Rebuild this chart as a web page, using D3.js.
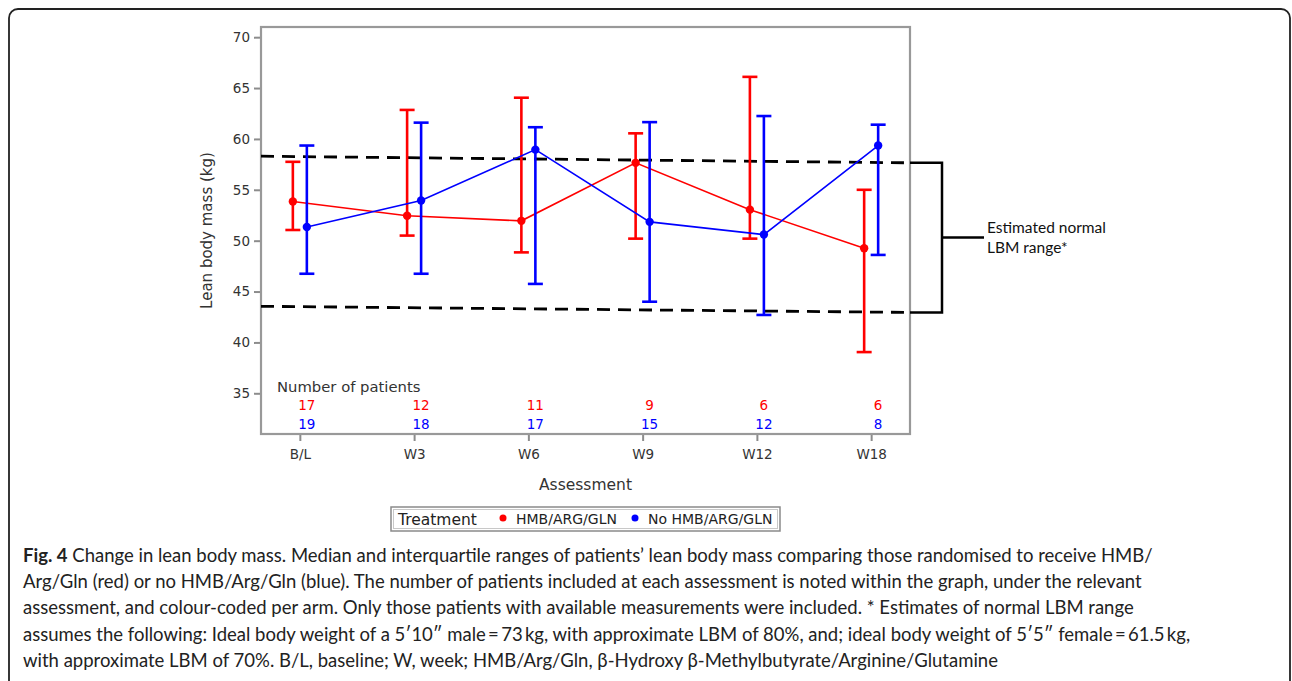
<!DOCTYPE html>
<html>
<head>
<meta charset="utf-8">
<script src="https://cdn.jsdelivr.net/npm/d3@7"></script>
<style>
  body { margin: 0; background: #fff; }
  svg { display: block; }
  .tick text { font-family: "DejaVu Sans", sans-serif; font-size: 13.5px; fill: #333; }
  .tick line { stroke: #8c8c8c; stroke-width: 2; }
</style>
</head>
<body>
<script>
// data: medians with interquartile ranges
var visits = ["B/L", "W3", "W6", "W9", "W12", "W18"];
var hmbMedian = [53.85, 52.45, 51.95, 57.65, 53.05, 49.25];
var hmbQ1     = [51.05, 50.5, 48.85, 50.2, 50.2, 39.05];
var hmbQ3     = [57.75, 62.85, 64.05, 60.55, 66.1, 55.0];
var hmbCount  = [17, 12, 11, 9, 6, 6];
var noMedian  = [51.35, 53.95, 58.95, 51.85, 50.6, 59.35];
var noQ1      = [46.75, 46.75, 45.75, 44.0, 42.7, 48.6];
var noQ3      = [59.35, 61.6, 61.15, 61.65, 62.25, 61.4];
var noCount   = [19, 18, 17, 15, 12, 8];
var yTicks = [35, 40, 45, 50, 55, 60, 65, 70];
// estimated normal LBM range, value at left and right edge of the plot
var upperBand = [58.3, 57.65];
var lowerBand = [43.55, 42.95];

var captionLines = [
  " Change in lean body mass. Median and interquartile ranges of patients\u2019 lean body mass comparing those randomised to receive HMB/",
  "Arg/Gln (red) or no HMB/Arg/Gln (blue). The number of patients included at each assessment is noted within the graph, under the relevant",
  "assessment, and colour-coded per arm. Only those patients with available measurements were included. * Estimates of normal LBM range",
  "assumes the following: Ideal body weight of a 5\u203210\u2033 male\u2009=\u200973\u2009kg, with approximate LBM of 80%, and; ideal body weight of 5\u20325\u2033 female\u2009=\u200961.5\u2009kg,",
  "with approximate LBM of 70%. B/L, baseline; W, week; HMB/Arg/Gln, \u03b2-Hydroxy \u03b2-Methylbutyrate/Arginine/Glutamine"
];

var series = [
  {name: "HMB/ARG/GLN", color: "#ff0000", off: -7, med: hmbMedian, lo: hmbQ1, hi: hmbQ3, n: hmbCount},
  {name: "No HMB/ARG/GLN", color: "#0000ff", off: 7, med: noMedian, lo: noQ1, hi: noQ3, n: noCount}
];

var W = 1292, H = 681;
var plot = {left: 261, right: 910, top: 27, bottom: 434};

var svg = d3.select("body").append("svg")
    .attr("width", W)
    .attr("height", H);

// outer rounded frame of the figure panel
svg.append("rect")
    .attr("x", 9).attr("y", 9)
    .attr("width", 1281).attr("height", 720)
    .attr("rx", 9)
    .attr("fill", "none")
    .attr("stroke", "#222")
    .attr("stroke-width", 1.8);

var x = d3.scalePoint()
    .domain(visits)
    .range([plot.left, plot.right])
    .padding(0.34);

var y = d3.scaleLinear()
    .domain([31, 71])
    .range([plot.bottom, plot.top]);

// axes
var yAxis = svg.append("g")
    .attr("transform", "translate(" + plot.left + ",0)")
    .call(d3.axisLeft(y).tickValues(yTicks).tickSize(7).tickPadding(4));
yAxis.select(".domain").remove();

var xAxis = svg.append("g")
    .attr("transform", "translate(0," + plot.bottom + ")")
    .call(d3.axisBottom(x).tickSize(7).tickPadding(8));
xAxis.select(".domain").remove();

// plot frame
svg.append("rect")
    .attr("x", plot.left).attr("y", plot.top)
    .attr("width", plot.right - plot.left)
    .attr("height", plot.bottom - plot.top)
    .attr("fill", "none")
    .attr("stroke", "#999")
    .attr("stroke-width", 2.2);

// axis titles
svg.append("text")
    .attr("transform", "translate(212," + (plot.top + plot.bottom) / 2 + ") rotate(-90)")
    .attr("text-anchor", "middle")
    .style("font-family", "DejaVu Sans, sans-serif")
    .style("font-size", "15px")
    .attr("fill", "#333")
    .text("Lean body mass (kg)");

svg.append("text")
    .attr("x", (plot.left + plot.right) / 2)
    .attr("y", 490)
    .attr("text-anchor", "middle")
    .style("font-family", "DejaVu Sans, sans-serif")
    .style("font-size", "15.5px")
    .attr("fill", "#333")
    .text("Assessment");

// dashed normal range lines
[upperBand, lowerBand].forEach(function(b) {
  svg.append("line")
      .attr("x1", plot.left).attr("x2", plot.right)
      .attr("y1", y(b[0])).attr("y2", y(b[1]))
      .attr("stroke", "#000")
      .attr("stroke-width", 2.8)
      .attr("stroke-dasharray", "13,8");
});

// bracket to the right
var bx = plot.right + 32;
svg.append("path")
    .attr("d", "M" + plot.right + "," + y(upperBand[1]) + "H" + bx + "V" + y(lowerBand[1]) + "H" + plot.right)
    .attr("fill", "none")
    .attr("stroke", "#000")
    .attr("stroke-width", 2.5);
var bmid = (y(upperBand[1]) + y(lowerBand[1])) / 2;
svg.append("line")
    .attr("x1", bx).attr("x2", bx + 42)
    .attr("y1", bmid).attr("y2", bmid)
    .attr("stroke", "#000")
    .attr("stroke-width", 2.5);
var note = svg.append("text")
    .style("font-family", "Lato, sans-serif")
    .style("font-size", "15.5px")
    .attr("fill", "#111");
note.append("tspan").attr("x", bx + 45).attr("y", bmid - 5).text("Estimated normal");
note.append("tspan").attr("x", bx + 45).attr("y", bmid + 15).text("LBM range*");

// series: connecting lines, error bars, markers
series.forEach(function(s) {
  var px = function(d, i) { return x(visits[i]) + s.off; };

  svg.append("path")
      .datum(s.med)
      .attr("fill", "none")
      .attr("stroke", s.color)
      .attr("stroke-width", 1.6)
      .attr("d", d3.line().x(px).y(function(d) { return y(d); }));

  var bars = svg.append("g").selectAll("g")
      .data(s.med)
      .enter().append("g")
      .attr("stroke", s.color)
      .attr("stroke-width", 2.6);
  bars.append("line")
      .attr("x1", px).attr("x2", px)
      .attr("y1", function(d, i) { return y(s.lo[i]); })
      .attr("y2", function(d, i) { return y(s.hi[i]); });
  bars.append("line")
      .attr("x1", function(d, i) { return px(d, i) - 7.5; })
      .attr("x2", function(d, i) { return px(d, i) + 7.5; })
      .attr("y1", function(d, i) { return y(s.hi[i]); })
      .attr("y2", function(d, i) { return y(s.hi[i]); });
  bars.append("line")
      .attr("x1", function(d, i) { return px(d, i) - 7.5; })
      .attr("x2", function(d, i) { return px(d, i) + 7.5; })
      .attr("y1", function(d, i) { return y(s.lo[i]); })
      .attr("y2", function(d, i) { return y(s.lo[i]); });

  svg.append("g").selectAll("circle")
      .data(s.med)
      .enter().append("circle")
      .attr("cx", px)
      .attr("cy", function(d) { return y(d); })
      .attr("r", 4.2)
      .attr("fill", s.color);
});

// number of patients
svg.append("text")
    .attr("x", 277).attr("y", 392)
    .style("font-family", "DejaVu Sans, sans-serif")
    .style("font-size", "14.8px")
    .attr("fill", "#333")
    .text("Number of patients");
series.forEach(function(s, k) {
  svg.append("g").selectAll("text")
      .data(s.n)
      .enter().append("text")
      .attr("x", function(d, i) { return x(visits[i]) + 7; })
      .attr("y", 410 + k * 19)
      .attr("text-anchor", "middle")
      .style("font-family", "DejaVu Sans, sans-serif")
      .style("font-size", "13.5px")
      .attr("fill", s.color)
      .text(function(d) { return d; });
});

// legend
var lg = svg.append("g");
lg.append("rect")
    .attr("x", 391).attr("y", 507).attr("width", 389).attr("height", 24)
    .attr("fill", "#fff").attr("stroke", "#8a8a8a").attr("stroke-width", 1.5);
lg.append("rect")
    .attr("x", 393.5).attr("y", 509.5).attr("width", 384).attr("height", 19)
    .attr("fill", "none").attr("stroke", "#c8c8c8").attr("stroke-width", 1);
lg.append("text")
    .attr("x", 398).attr("y", 525)
    .style("font-family", "DejaVu Sans, sans-serif")
    .style("font-size", "15.5px")
    .attr("fill", "#222")
    .text("Treatment");
var lx = [503, 635];
series.forEach(function(s, k) {
  lg.append("circle").attr("cx", lx[k]).attr("cy", 518).attr("r", 3.5).attr("fill", s.color);
  lg.append("text")
      .attr("x", lx[k] + 13).attr("y", 524)
      .style("font-family", "DejaVu Sans, sans-serif")
      .style("font-size", "14px")
      .attr("fill", "#222")
      .text(s.name);
});

// caption
var cap = svg.append("g")
    .style("font-family", "Lato, sans-serif")
    .style("font-size", "16.5px")
    .attr("fill", "#222");
captionLines.forEach(function(t, i) {
  var tx = cap.append("text").attr("x", 23).attr("y", 562 + i * 26.2);
  if (i === 0) tx.append("tspan").style("font-weight", "bold").text("Fig. 4");
  tx.append("tspan").text(t);
});
// fit the caption width to the first line of the figure
var firstLen = cap.select("text").node().getComputedTextLength();
cap.style("font-size", (16.5 * 1130 / firstLen).toFixed(2) + "px");
</script>
</body>
</html>
